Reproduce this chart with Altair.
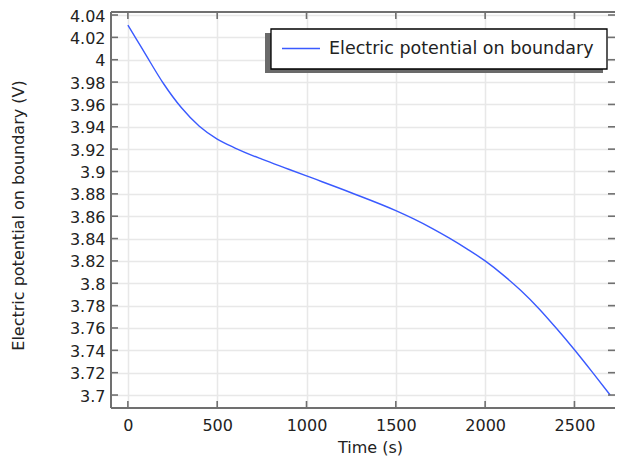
import altair as alt
import pandas as pd

# ---- data ----
time_s = [0, 50, 100, 200, 300, 400, 500, 600, 750, 900, 1000, 1250, 1500,
          1600, 1700, 1800, 1900, 2000, 2100, 2200, 2300, 2400, 2500, 2600,
          2700]
potential_v = [4.031, 4.0178, 4.0045, 3.9785, 3.957, 3.9405, 3.929, 3.921,
               3.911, 3.902, 3.896, 3.881, 3.865, 3.8576, 3.8494, 3.8404,
               3.8306, 3.820, 3.8075, 3.7935, 3.7775, 3.7595, 3.7405, 3.7205,
               3.700]
x_ticks = [0, 500, 1000, 1500, 2000, 2500]
y_ticks = [3.70, 3.72, 3.74, 3.76, 3.78, 3.80, 3.82, 3.84, 3.86, 3.88, 3.90,
           3.92, 3.94, 3.96, 3.98, 4.00, 4.02, 4.04]
series_name = "Electric potential on boundary"
x_title = "Time (s)"
y_title = "Electric potential on boundary (V)"

# ---- layout / style ----
W, H = 504, 396
X_DOMAIN = [-94.5, 2727]
Y_DOMAIN = [3.6884, 4.0427]
FONT = "DejaVu Sans"
FRAME = "#707070"
GRID = "#e8e8e8"
LINE = "#3a5aff"
TXT = "#222222"
TICK_LEN = 7

df = pd.DataFrame({"t": time_s, "v": potential_v})
xt = pd.DataFrame({"t": x_ticks})
yt = pd.DataFrame({"v": y_ticks})
leg = pd.DataFrame({"label": [series_name]})

xscale = alt.Scale(domain=X_DOMAIN, nice=False, zero=False)
yscale = alt.Scale(domain=Y_DOMAIN, nice=False, zero=False)

x_axis = alt.Axis(values=x_ticks, format="d", grid=True, gridColor=GRID,
                  gridWidth=1.5, domain=False, ticks=False, tickSize=0,
                  labelOverlap=False, labelFlush=False,
                  labelPadding=9, labelFontSize=16, labelFont=FONT,
                  labelColor=TXT, title=x_title, titleFont=FONT,
                  titleFontSize=16, titleFontWeight="normal", titleColor=TXT,
                  titleX=259, titleY=39, titleBaseline="middle")
y_axis = alt.Axis(values=y_ticks, format=".3~g", grid=True, gridColor=GRID,
                  gridWidth=1.5, domain=False, ticks=False, tickSize=0,
                  labelOverlap=False, labelFlush=False, labelOffset=1,
                  labelPadding=6, labelFontSize=16, labelFont=FONT,
                  labelColor=TXT, title=y_title, titleFont=FONT,
                  titleFontSize=16, titleFontWeight="normal", titleColor=TXT,
                  titleX=-93, titleY=203, titleBaseline="middle")


def X():
    return alt.X("t:Q", scale=xscale, axis=x_axis, title=x_title)


def Y():
    return alt.Y("v:Q", scale=yscale, axis=y_axis, title=y_title)


line = alt.Chart(df).mark_line(color=LINE, strokeWidth=1.4,
                               interpolate="monotone").encode(x=X(), y=Y())

tick_style = dict(color=FRAME, strokeWidth=1.6)
left_ticks = alt.Chart(yt).mark_rule(**tick_style).encode(
    y=Y(), x=alt.value(0), x2=alt.value(TICK_LEN))
right_ticks = alt.Chart(yt).mark_rule(**tick_style).encode(
    y=Y(), x=alt.value(W - TICK_LEN), x2=alt.value(W))
bottom_ticks = alt.Chart(xt).mark_rule(**tick_style).encode(
    x=X(), y=alt.value(H - TICK_LEN), y2=alt.value(H))
top_ticks = alt.Chart(xt).mark_rule(**tick_style).encode(
    x=X(), y=alt.value(0), y2=alt.value(TICK_LEN))

# frame (left, top, bottom; the right edge lies outside the picture)
frame_style = dict(color=FRAME, strokeWidth=2)
frame_left = alt.Chart(leg).mark_rule(**frame_style).encode(
    x=alt.value(0), y=alt.value(0), y2=alt.value(H))
frame_top = alt.Chart(leg).mark_rule(**frame_style).encode(
    x=alt.value(0), x2=alt.value(W), y=alt.value(0))
frame_bottom = alt.Chart(leg).mark_rule(**frame_style).encode(
    x=alt.value(0), x2=alt.value(W), y=alt.value(H))

# legend box (drawn)
leg_shadow = alt.Chart(leg).mark_rect(color="#6a6a6a").encode(
    x=alt.value(154), x2=alt.value(492), y=alt.value(21), y2=alt.value(61))
leg_box = alt.Chart(leg).mark_rect(fill="white", stroke="black",
                                   strokeWidth=1.3).encode(
    x=alt.value(160), x2=alt.value(496), y=alt.value(17), y2=alt.value(57))
leg_line = alt.Chart(leg).mark_rule(color=LINE, strokeWidth=1.6).encode(
    x=alt.value(171), x2=alt.value(209), y=alt.value(36.5))
leg_text = alt.Chart(leg).mark_text(align="left", baseline="middle",
                                    font=FONT, fontSize=17.5, color=TXT).encode(
    x=alt.value(218), y=alt.value(37), text="label:N")

chart = alt.layer(
    line, left_ticks, right_ticks, bottom_ticks, top_ticks,
    frame_left, frame_top, frame_bottom,
    leg_shadow, leg_box, leg_line, leg_text,
).properties(
    width=W, height=H,
    autosize=alt.AutoSizeParams(type="none"),
    padding={"left": 103, "top": 4, "right": 0, "bottom": 50},
).configure_view(
    stroke=None
).configure(background="white")

chart.save("out.html", embed_options={"renderer": "svg", "actions": False})
